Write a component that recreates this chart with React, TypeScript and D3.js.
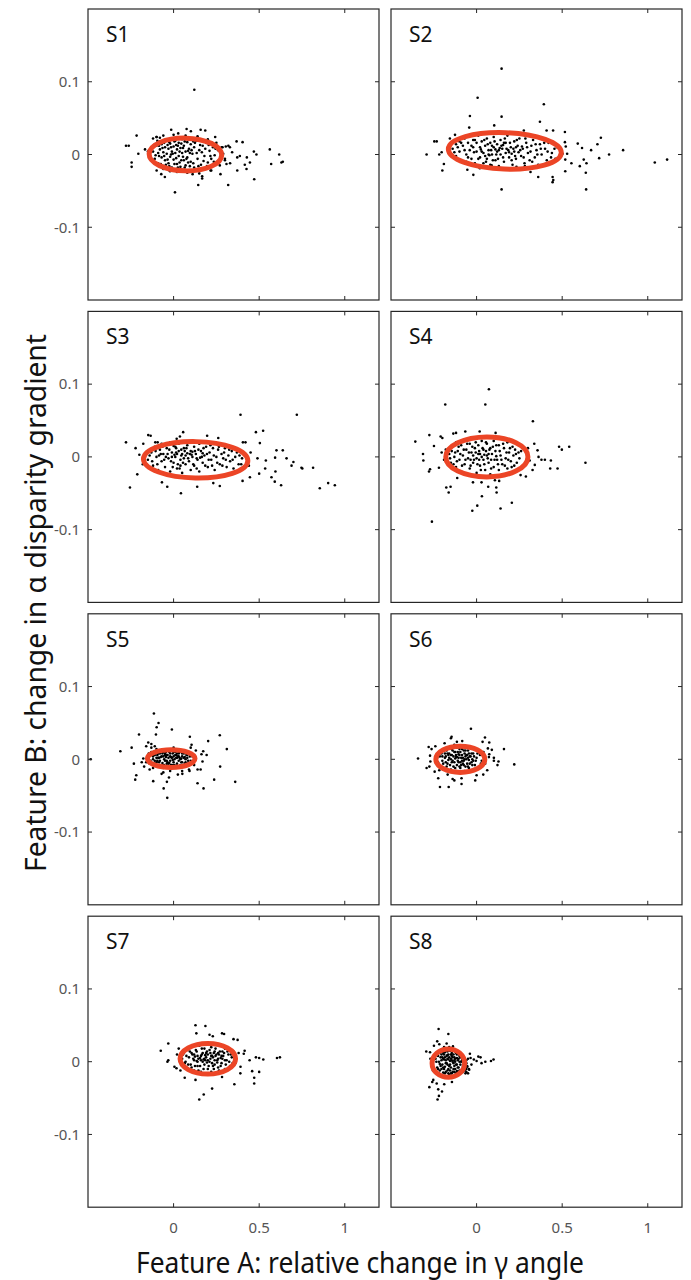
import React from 'react';
import * as d3 from 'd3';

// panel names and axis setup
const panelNames = ['S1', 'S2', 'S3', 'S4', 'S5', 'S6', 'S7', 'S8'];
const xTicks = [0, 0.5, 1];
const yTicks = [-0.1, 0, 0.1];
const xTickLabels = ['0', '0.5', '1'];
const yTickLabels = ['-0.1', '0', '0.1'];
const xDomain = [-0.5, 1.2];
const yDomain = [-0.2, 0.2];

// fitted ellipses (centre, semi axes, tilt in screen degrees)
const ellipseCx = [0.069, 0.165, 0.129, 0.06, -0.014, -0.095, 0.2, -0.165];
const ellipseCy = [0, 0.005, -0.004, 0, 0.001, 0, 0.004, -0.002];
const ellipseRx = [0.212, 0.33, 0.305, 0.24, 0.139, 0.143, 0.162, 0.095];
const ellipseRy = [0.0225, 0.025, 0.025, 0.0275, 0.0122, 0.018, 0.021, 0.0195];
const ellipseTilt = [1, 2, 1, 0, 0, 0, 0, 0];

const s1Points: [number, number][] = [
  [0.121, 0.089], [-0.278, 0.012], [-0.262, 0.012], [-0.216, 0.026], [-0.245, -0.011], [-0.245, -0.017],
  [-0.206, 0.001], [-0.167, 0.007], [-0.014, 0.034], [0.076, 0.035], [0.101, 0.032], [0.158, 0.034],
  [0.185, 0.033], [0.243, 0.024], [0.368, 0.018], [0.403, 0.017], [0.329, 0.01], [0.342, 0.003],
  [0.372, -0.004], [0.387, -0.002], [0.428, -0.004], [0.446, -0.011], [0.416, -0.014], [0.426, -0.02],
  [0.372, -0.022], [0.469, 0.004], [0.484, 0], [0.471, -0.034], [0.562, 0.007], [0.617, 0],
  [0.57, -0.013], [0.63, -0.011], [0.638, -0.01], [0.319, -0.042], [0.144, -0.042], [0.008, -0.052],
  [0.111, -0.027], [0.167, -0.03], [0.167, -0.033], [0.274, -0.027], [0.216, -0.022], [-0.072, -0.027],
  [-0.051, -0.031], [-0.099, -0.022], [-0.021, -0.023], [0.037, -0.02], [0.3, -0.008], [0.309, -0.013],
  [0.286, 0.01], [0.305, 0.011], [-0.099, 0.024], [-0.08, 0.023], [0.027, 0.029],
  [-0.12, 0.022], [-0.1, 0.024], [-0.06, 0.026], [0, 0.027], [0.07, 0.026], [0.14, 0.025], [0.2, 0.021],
  [0.25, 0.016], [0.28, 0.01], [0.29, 0.001], [0.3, -0.006], [0.27, -0.015], [0.22, -0.022], [0.15, -0.026],
  [0.08, -0.025], [0.02, -0.024], [-0.06, -0.02], [-0.13, -0.008], [-0.15, 0.004], [0.32, 0.012], [0.33, -0.012],
  [-0.12, 0.004], [-0.11, -0.006], [-0.1, 0.012], [-0.09, 0.002], [-0.09, -0.012], [-0.08, 0.018], [-0.08, 0.007],
  [-0.07, -0.004], [-0.07, 0.014], [-0.06, -0.016], [-0.06, 0.003], [-0.05, 0.01], [-0.05, -0.008], [-0.04, 0.02],
  [-0.04, 0.001], [-0.03, -0.012], [-0.03, 0.008], [-0.02, 0.015], [-0.02, -0.003], [-0.01, 0.004], [-0.01, -0.018],
  [0, 0.011], [0, -0.007], [0.01, 0.019], [0.01, 0.002], [0.02, -0.013], [0.02, 0.007], [0.03, 0.016],
  [0.03, -0.002], [0.04, 0.009], [0.04, -0.017], [0.05, 0.002], [0.05, 0.021], [0.06, -0.008], [0.06, 0.012],
  [0.07, 0.004], [0.07, -0.015], [0.08, 0.017], [0.08, -0.004], [0.09, 0.008], [0.1, -0.01], [0.1, 0.014],
  [0.11, 0.001], [0.12, -0.018], [0.12, 0.01], [0.13, 0.019], [0.14, -0.006], [0.15, 0.006], [0.16, -0.014],
  [0.17, 0.012], [0.18, -0.002], [0.19, 0.016], [0.2, -0.011], [0.21, 0.005], [0.22, -0.006], [0.23, 0.01],
  [0.24, -0.001], [0.26, 0.006], [-0.015, 0], [0.035, 0.004], [-0.065, 0.009], [0.085, -0.011], [0.015, -0.005],
  [-0.025, 0.017], [0.055, -0.003], [0.045, 0.015], [-0.045, -0.014], [0.095, 0.002], [0.025, 0.012], [-0.085, -0.002],
  [-0.115, 0.013], [-0.105, -0.001], [-0.095, 0.019], [-0.075, -0.013], [-0.055, 0.016], [-0.035, -0.007],
  [-0.015, 0.01], [0.005, -0.013], [0.005, 0.018], [0.025, -0.018], [0.045, -0.008], [0.065, 0.018],
  [0.075, -0.006], [0.085, 0.005], [0.105, 0.006], [0.115, -0.012], [0.125, 0.016], [0.135, 0.002],
  [0.145, -0.016], [0.155, 0.013], [0.165, 0.003], [0.175, -0.009], [0.185, 0.008], [0.195, -0.016],
  [0.205, 0.013], [0.215, -0.002], [0.225, 0.016], [0.235, -0.01], [0.245, 0.008], [-0.005, 0.001],
  [-0.035, 0.013], [0.055, 0.009], [0.015, 0.013], [-0.055, -0.002], [0.035, -0.011], [0.095, -0.016],
  [-0.085, 0.012], [0.115, 0.018], [0.065, -0.018], [-0.025, -0.016],
];

const s2Points: [number, number][] = [
  [0.146, 0.118], [0.006, 0.078], [0.393, 0.069], [0.146, 0.052], [-0.039, 0.053], [0.37, 0.045],
  [-0.043, 0.037], [0.103, 0.04], [0.276, 0.033], [0.409, 0.033], [0.447, 0.033], [0.516, 0.031],
  [0.726, 0.023], [0.706, 0.014], [0.591, 0.015], [0.616, 0.009], [0.669, 0.006], [0.774, 0],
  [0.856, 0.006], [0.716, -0.005], [1.041, -0.011], [1.113, -0.007], [0.626, -0.007], [0.642, -0.012],
  [0.603, -0.016], [0.554, -0.012], [0.518, -0.007], [0.529, 0.001], [0.502, 0.001], [0.521, 0.011],
  [0.516, 0.017], [0.638, -0.025], [0.64, -0.048], [0.518, -0.023], [0.444, -0.031], [0.444, -0.038],
  [0.448, -0.035], [0.36, -0.031], [0.315, -0.024], [0.146, -0.048], [-0.019, -0.028], [-0.054, -0.021],
  [-0.2, -0.022], [-0.191, -0.013], [-0.292, 0], [-0.247, 0.018], [-0.233, 0.018], [-0.218, 0],
  [-0.204, 0.003], [-0.126, 0.027], [-0.156, 0.022], [0.019, -0.019], [0.088, -0.015], [0.233, -0.017],
  [0.282, -0.016],
  [-0.14, 0.008], [-0.12, 0.014], [-0.12, -0.002], [-0.1, 0.018], [-0.1, 0.004], [-0.09, -0.008], [-0.08, 0.012],
  [-0.07, 0.022], [-0.06, 0], [-0.06, -0.01], [-0.05, 0.016], [-0.04, 0.006], [-0.03, -0.006], [-0.02, 0.02],
  [-0.02, 0.01], [-0.01, -0.012], [0, 0.004], [0, 0.016], [0.01, 0.026], [0.02, -0.004], [0.02, 0.01],
  [0.03, 0.018], [0.04, -0.012], [0.04, 0.002], [0.05, 0.012], [0.06, 0.022], [0.06, -0.006], [0.07, 0.006],
  [0.08, 0.016], [0.08, -0.014], [0.09, 0], [0.1, 0.01], [0.1, 0.024], [0.11, -0.008], [0.12, 0.004],
  [0.12, 0.014], [0.13, -0.016], [0.14, 0.02], [0.14, 0], [0.15, 0.008], [0.16, -0.01], [0.17, 0.016],
  [0.17, 0.002], [0.18, 0.026], [0.19, -0.004], [0.2, 0.01], [0.21, -0.014], [0.22, 0.018], [0.22, 0.004],
  [0.23, -0.006], [0.24, 0.012], [0.25, 0.022], [0.26, -0.002], [0.27, 0.008], [0.28, -0.012], [0.29, 0.016],
  [0.3, 0.002], [0.31, -0.008], [0.32, 0.012], [0.33, 0.02], [0.34, -0.004], [0.35, 0.006], [0.36, -0.014],
  [0.37, 0.014], [0.38, 0], [0.4, 0.008], [0.41, -0.008], [0.42, 0.016], [0.44, 0.002], [0.46, -0.006],
  [0.47, 0.01], [0.05, -0.002], [0.135, 0.009], [0.185, 0.006], [0.245, 0.003], [0.075, -0.001],
  [0.11, 0.007], [0.155, 0.013], [0.205, 0.001], [0.265, 0.011], [0.025, 0.007], [-0.015, 0.003],
  [-0.13, 0.003], [-0.11, 0.01], [-0.09, 0.016], [-0.07, 0.006], [-0.05, -0.004], [-0.03, 0.012], [-0.01, 0.02],
  [0.01, -0.006], [0.03, 0.004], [0.045, 0.02], [0.055, -0.01], [0.065, 0.014], [0.085, 0.006], [0.095, -0.008],
  [0.105, 0.018], [0.115, 0], [0.125, -0.006], [0.145, 0.012], [0.155, -0.004], [0.165, 0.022], [0.175, 0.008],
  [0.195, 0.016], [0.205, -0.008], [0.215, 0.008], [0.225, -0.002], [0.235, 0.02], [0.255, 0.006], [0.275, -0.004],
  [0.285, 0.022], [0.295, 0.01], [0.315, 0.004], [0.325, -0.01], [0.345, 0.014], [0.355, 0], [0.375, 0.008],
  [0.395, 0.016], [0.415, 0.004], [0.435, -0.004], [0.455, 0.008], [0.07, 0], [0.13, 0.006], [0.19, 0.003],
  [0.16, 0.016], [0.09, 0.012], [0.23, 0.01],
];

const s3Points: [number, number][] = [
  [0.391, 0.058], [0.72, 0.058], [0.481, 0.034], [0.523, 0.036], [0.504, 0.019], [0.405, 0.02],
  [0.42, 0.02], [0.601, 0.009], [0.638, 0.009], [0.66, -0.002], [0.593, -0.001], [0.539, -0.005],
  [0.49, -0.002], [0.7, -0.007], [0.689, -0.012], [0.747, -0.015], [0.752, -0.016], [0.815, -0.015],
  [0.854, -0.043], [0.903, -0.036], [0.942, -0.039], [0.628, -0.039], [0.591, -0.034], [0.572, -0.028],
  [0.595, -0.02], [0.535, -0.016], [0.5, -0.023], [0.446, -0.028], [0.403, -0.033], [0.27, -0.04],
  [0.232, -0.036], [0.138, -0.041], [0.043, -0.05], [-0.037, -0.041], [-0.068, -0.035], [-0.255, -0.042],
  [-0.212, -0.024], [-0.222, 0.012], [-0.278, 0.02], [-0.2, 0.003], [-0.177, 0.018], [-0.148, 0.03],
  [-0.134, 0.029], [0.056, 0.034], [0.196, 0.029], [0.261, 0.026], [0.037, 0.028], [0.018, 0.025],
  [-0.107, 0.02], [-0.093, 0.02], [0.45, 0.006], [0.44, -0.012], [-0.18, -0.01],
  [-0.15, -0.004], [-0.13, 0.006], [-0.12, -0.012], [-0.11, 0.014], [-0.1, 0], [-0.09, -0.018], [-0.08, 0.01],
  [-0.07, 0.018], [-0.07, -0.006], [-0.06, 0.004], [-0.05, -0.014], [-0.04, 0.012], [-0.03, -0.002], [-0.02, 0.02],
  [-0.02, -0.02], [-0.01, 0.006], [0, -0.008], [0.01, 0.014], [0.01, 0], [0.02, -0.016], [0.03, 0.008],
  [0.03, 0.018], [0.04, -0.004], [0.05, 0.004], [0.05, -0.022], [0.06, 0.012], [0.07, -0.01], [0.07, 0.002],
  [0.08, 0.016], [0.09, -0.006], [0.1, 0.008], [0.1, -0.018], [0.11, 0], [0.12, 0.014], [0.12, -0.012],
  [0.13, 0.004], [0.14, -0.004], [0.15, 0.018], [0.15, -0.02], [0.16, 0.008], [0.17, -0.008], [0.18, 0.002],
  [0.19, 0.014], [0.2, -0.014], [0.21, 0.006], [0.22, -0.004], [0.23, 0.012], [0.24, -0.018], [0.25, 0],
  [0.26, 0.01], [0.27, -0.01], [0.28, 0.004], [0.29, -0.002], [0.3, 0.012], [0.31, -0.014], [0.32, 0.002],
  [0.33, -0.006], [0.34, 0.008], [0.35, -0.016], [0.36, 0], [0.37, 0.006], [0.38, -0.01], [0.4, -0.002],
  [0.005, 0.003], [0.045, 0.01], [-0.035, 0.004], [0.085, -0.002], [0.065, 0.008], [0.025, -0.01], [-0.055, -0.004],
  [-0.015, -0.006], [0.015, 0.006], [0.055, -0.008], [0.105, 0.003], [0.155, -0.001], [-0.085, 0.002],
  [-0.14, 0.002], [-0.125, -0.006], [-0.105, 0.008], [-0.095, -0.01], [-0.075, 0.004], [-0.065, 0.014],
  [-0.045, 0], [-0.025, 0.01], [-0.005, -0.014], [0.015, 0.012], [0.035, -0.016], [0.045, 0.002],
  [0.075, 0.012], [0.095, 0.004], [0.115, -0.01], [0.125, 0.008], [0.135, -0.016], [0.145, 0.01],
  [0.165, 0], [0.175, 0.012], [0.185, -0.012], [0.195, 0.004], [0.205, -0.004], [0.215, 0.016],
  [0.225, -0.012], [0.235, 0.002], [0.255, -0.008], [0.265, 0.014], [0.285, -0.012], [0.295, 0.006],
  [0.305, -0.004], [0.325, 0.01], [0.345, -0.004], [0.365, 0.01], [0.385, 0.002], [0.395, -0.01],
  [-0.01, 0], [0.02, 0.004], [0.06, -0.002], [0.08, 0.005], [0.11, 0.007], [0.135, -0.002], [0.17, 0.005],
  [0.04, -0.012], [0, 0.015],
];

const s4Points: [number, number][] = [
  [0.072, 0.093], [-0.183, 0.072], [0.051, 0.072], [0.329, 0.049], [-0.358, 0.021], [-0.276, 0.03],
  [-0.21, 0.028], [-0.2, 0.026], [-0.136, 0.032], [-0.12, 0.033], [-0.066, 0.035], [0.018, 0.035],
  [0.111, 0.033], [-0.313, 0.004], [-0.311, -0.005], [-0.249, 0.015], [-0.204, 0.006], [-0.22, -0.015],
  [-0.272, -0.017], [-0.278, -0.02], [0.337, 0.018], [0.356, 0.009], [0.362, 0], [0.379, -0.004],
  [0.399, -0.004], [0.434, -0.005], [0.482, 0.014], [0.498, 0.01], [0.541, 0.014], [0.636, -0.008],
  [0.43, -0.016], [0.473, -0.016], [0.34, -0.011], [0.327, -0.018], [0.288, -0.027], [0.257, -0.025],
  [-0.113, -0.029], [-0.177, -0.042], [-0.152, -0.041], [-0.163, -0.049], [-0.021, -0.035], [0.029, -0.035],
  [0.068, -0.041], [0.115, -0.042], [0.117, -0.049], [0.031, -0.054], [0.004, -0.067], [-0.025, -0.074],
  [0.14, -0.071], [0.206, -0.063], [-0.261, -0.089], [0.107, -0.032], [0.132, -0.033], [-0.18, 0.01],
  [0.3, 0.012], [0.31, -0.005], [-0.19, -0.004],
  [-0.16, 0.004], [-0.15, -0.008], [-0.14, 0.014], [-0.13, 0], [-0.12, -0.014], [-0.12, 0.02], [-0.11, 0.008],
  [-0.1, -0.004], [-0.09, 0.016], [-0.09, -0.02], [-0.08, 0.002], [-0.07, 0.024], [-0.07, -0.01], [-0.06, 0.01],
  [-0.05, -0.002], [-0.04, 0.018], [-0.04, -0.016], [-0.03, 0.006], [-0.02, -0.008], [-0.02, 0.026], [-0.01, 0.012],
  [0, -0.002], [0, -0.022], [0.01, 0.016], [0.02, 0.004], [0.02, -0.012], [0.03, 0.022], [0.04, -0.004],
  [0.04, 0.01], [0.05, -0.018], [0.06, 0.002], [0.06, 0.018], [0.07, -0.008], [0.08, 0.012], [0.08, -0.024],
  [0.09, 0.004], [0.1, -0.014], [0.1, 0.022], [0.11, 0.008], [0.12, -0.004], [0.13, 0.016], [0.13, -0.018],
  [0.14, 0.002], [0.15, -0.01], [0.16, 0.012], [0.17, -0.002], [0.18, 0.02], [0.18, -0.016], [0.19, 0.006],
  [0.2, -0.006], [0.21, 0.014], [0.22, -0.012], [0.23, 0.004], [0.25, -0.002], [0.26, 0.008], [0.03, 0],
  [-0.005, 0.006], [0.055, 0.008], [0.085, -0.004], [0.015, -0.004], [-0.035, -0.004], [0.115, 0.001],
  [-0.155, -0.002], [-0.145, 0.008], [-0.135, -0.01], [-0.125, 0.006], [-0.115, -0.006], [-0.105, 0.014],
  [-0.095, 0.004], [-0.085, -0.012], [-0.075, 0.01], [-0.065, -0.004], [-0.055, 0.018], [-0.045, 0.006],
  [-0.035, -0.012], [-0.025, 0.014], [-0.015, -0.004], [-0.005, 0.02], [0.005, -0.01], [0.015, 0.008],
  [0.025, -0.018], [0.035, 0.012], [0.045, -0.01], [0.055, 0.02], [0.065, -0.002], [0.075, 0.01],
  [0.085, -0.016], [0.095, 0.014], [0.105, -0.004], [0.115, 0.016], [0.125, -0.01], [0.135, 0.008],
  [0.145, -0.004], [0.155, 0.018], [0.165, -0.012], [0.175, 0.006], [0.185, -0.004], [0.195, 0.012],
  [0.205, -0.014], [0.215, 0.002], [0.225, 0.01], [0.235, -0.008], [0.245, 0.006], [0.01, 0.004],
  [0.045, 0.003], [0.07, 0.004], [-0.02, 0.002],
];

const s5Points: [number, number][] = [
  [-0.115, 0.063], [-0.088, 0.05], [-0.099, 0.044], [-0.01, 0.041], [-0.103, 0.034], [-0.202, 0.034],
  [0.095, 0.031], [0.27, 0.033], [0.202, 0.025], [-0.148, 0.023], [0.105, 0.02], [-0.245, 0.016],
  [-0.311, 0.011], [-0.484, 0], [0.173, 0.011], [0.163, 0.007], [0.193, 0.006], [0.311, 0.014],
  [0.169, -0.003], [0.158, -0.014], [0.272, -0.01], [0.093, -0.016], [-0.232, -0.006], [-0.218, -0.022],
  [-0.224, -0.028], [-0.119, -0.03], [-0.07, -0.02], [-0.027, -0.025], [-0.039, -0.031], [-0.058, -0.04],
  [-0.037, -0.053], [0.025, -0.021], [0.051, -0.02], [0.14, -0.033], [0.175, -0.04], [0.237, -0.028],
  [0.36, -0.031], [-0.177, 0.001], [-0.186, -0.004], [-0.172, -0.01], [-0.16, 0.018], [-0.13, 0.021],
  [-0.15, 0.004], [-0.14, -0.006], [-0.13, 0.01], [-0.12, 0], [-0.12, -0.012], [-0.11, 0.006], [-0.1, -0.004],
  [-0.1, 0.014], [-0.09, 0.002], [-0.09, -0.01], [-0.08, 0.008], [-0.08, -0.002], [-0.07, 0.012], [-0.07, -0.008],
  [-0.06, 0.004], [-0.06, -0.012], [-0.05, 0.008], [-0.05, -0.002], [-0.04, 0.012], [-0.04, -0.006], [-0.03, 0.002],
  [-0.03, -0.01], [-0.02, 0.008], [-0.02, -0.002], [-0.01, 0.012], [-0.01, -0.008], [0, 0.004], [0, -0.004],
  [0.01, 0.01], [0.01, -0.01], [0.02, 0.002], [0.02, -0.006], [0.03, 0.008], [0.03, -0.002], [0.04, 0.012],
  [0.04, -0.008], [0.05, 0.004], [0.05, -0.004], [0.06, 0.008], [0.06, -0.01], [0.07, 0], [0.08, 0.006],
  [0.08, -0.006], [0.09, 0.01], [0.1, -0.002], [0.11, 0.004], [0.12, -0.008], [-0.095, 0.006], [-0.075, 0.003],
  [-0.055, 0], [-0.035, 0.006], [-0.015, 0.003], [0.005, 0], [0.025, 0.004], [-0.045, 0.003], [-0.065, -0.005],
  [-0.025, -0.005], [0.015, 0.006], [0.035, 0.002], [-0.085, 0.01], [-0.105, -0.008], [-0.13, 0.016], [-0.14, -0.014],
  [0.13, 0.012], [0.14, -0.014], [-0.16, -0.004], [-0.11, 0.018], [-0.06, -0.018], [0, 0.016], [0.05, -0.016],
  [0.1, 0.016], [-0.02, -0.016], [0.09, -0.014], [-0.085, -0.004], [-0.005, -0.001], [0.045, 0.001], [0.065, 0.003],
  [-0.145, 0.008], [-0.135, -0.002], [-0.125, 0.006], [-0.115, -0.006], [-0.105, 0.01], [-0.095, -0.002],
  [-0.085, 0.002], [-0.075, -0.01], [-0.065, 0.008], [-0.055, -0.008], [-0.045, 0.01], [-0.035, -0.004],
  [-0.025, 0.01], [-0.015, -0.008], [-0.005, 0.008], [0.005, -0.008], [0.015, 0.002], [0.025, -0.01],
  [0.035, 0.01], [0.045, -0.004], [0.055, 0.01], [0.065, -0.006], [0.075, 0.006], [0.085, -0.002],
  [0.095, 0.004], [0.105, 0.008], [0.115, -0.004], [-0.11, -0.002], [-0.09, 0.008], [-0.07, 0.004],
  [-0.05, 0.006], [-0.03, -0.006], [-0.01, 0.002], [0.01, 0.006], [0.03, 0.004], [0.05, 0.008],
  [0.07, -0.004], [-0.08, -0.008], [-0.06, 0.01], [-0.04, -0.002], [-0.02, 0.004], [0, 0.01],
  [0.02, 0.008], [0.04, 0], [0.06, 0.002], [0.08, 0.002], [-0.1, 0.002], [-0.12, 0.004], [0, -0.008], [-0.04, 0.006],
];

const s6Points: [number, number][] = [
  [-0.033, 0.042], [-0.146, 0.031], [-0.15, 0.029], [-0.187, 0.022], [-0.084, 0.025], [-0.115, 0.024],
  [0.049, 0.03], [0.035, 0.024], [0.074, 0.023], [0.066, 0.015], [0.089, 0.013], [0.16, 0.014],
  [-0.241, 0.018], [-0.28, 0.017], [-0.263, 0.014], [-0.342, 0.001], [-0.272, 0.005], [-0.27, -0.003],
  [-0.292, -0.012], [-0.276, -0.01], [-0.245, -0.017], [-0.218, -0.015], [-0.224, -0.026], [-0.214, -0.038],
  [-0.163, -0.038], [-0.169, -0.021], [-0.14, -0.027], [-0.13, -0.029], [-0.088, -0.034], [-0.088, -0.026],
  [-0.008, -0.029], [0, -0.022], [0.039, -0.021], [0.062, -0.015], [0.101, 0.002], [0.101, -0.002],
  [0.128, -0.003], [0.122, -0.008], [0.22, -0.007], [0.072, 0.003], [0.074, 0.007],
  [-0.23, 0.002], [-0.22, -0.008], [-0.21, 0.01], [-0.2, -0.002], [-0.19, 0.014], [-0.19, -0.012], [-0.18, 0.004],
  [-0.17, -0.006], [-0.17, 0.016], [-0.16, 0.008], [-0.15, -0.014], [-0.15, 0], [-0.14, 0.012], [-0.13, -0.004],
  [-0.13, 0.02], [-0.12, 0.006], [-0.12, -0.016], [-0.11, -0.002], [-0.1, 0.014], [-0.1, -0.01], [-0.09, 0.002],
  [-0.08, 0.018], [-0.08, -0.006], [-0.07, 0.008], [-0.07, -0.016], [-0.06, 0], [-0.05, 0.012], [-0.05, -0.01],
  [-0.04, 0.004], [-0.03, -0.004], [-0.03, 0.016], [-0.02, 0.008], [-0.01, -0.008], [0, 0.002], [0.01, -0.012],
  [0.02, 0.006], [0.03, -0.002], [0.04, 0.01], [-0.165, -0.001], [-0.145, 0.006], [-0.125, 0.001], [-0.105, 0.007],
  [-0.085, -0.002], [-0.065, 0.004], [-0.045, -0.001], [-0.115, -0.008], [-0.075, 0.012], [-0.135, -0.01],
  [-0.095, 0.01], [-0.055, 0.006], [-0.185, 0.008], [-0.025, 0], [-0.205, -0.012], [-0.155, 0.018], [-0.035, -0.016],
  [0.05, -0.006], [-0.24, -0.004], [0.015, 0.012], [-0.095, -0.004], [-0.115, 0.003], [-0.075, -0.008],
  [-0.225, -0.004], [-0.215, 0.004], [-0.205, 0.008], [-0.195, -0.006], [-0.185, 0.002], [-0.175, -0.01],
  [-0.175, 0.012], [-0.165, 0.006], [-0.155, -0.008], [-0.145, 0.014], [-0.145, -0.004], [-0.135, 0.004],
  [-0.125, -0.012], [-0.125, 0.01], [-0.115, 0.016], [-0.105, -0.004], [-0.105, 0.002], [-0.095, -0.012],
  [-0.085, 0.006], [-0.085, 0.014], [-0.075, -0.002], [-0.065, -0.01], [-0.065, 0.012], [-0.055, -0.006],
  [-0.045, 0.008], [-0.045, -0.012], [-0.035, 0.004], [-0.025, -0.008], [-0.015, 0.004], [-0.005, -0.002],
  [0.005, 0.008], [0.025, -0.006], [-0.16, 0.002], [-0.14, -0.002], [-0.12, 0.003], [-0.1, 0.006],
  [-0.08, 0.002], [-0.06, 0.006], [-0.04, -0.006], [-0.02, -0.002], [-0.18, -0.004], [-0.2, 0.004],
  [-0.11, 0.01], [-0.09, -0.008], [-0.07, 0], [-0.05, 0.002], [-0.13, 0.01], [-0.15, 0.006], [-0.17, 0.008], [-0.03, 0.008],
];

const s7Points: [number, number][] = [
  [0.128, 0.05], [0.186, 0.049], [0.133, 0.039], [0.21, 0.037], [0.229, 0.035], [0.283, 0.039],
  [0.295, 0.038], [-0.031, 0.025], [-0.075, 0.015], [0.35, 0.031], [0.374, 0.03], [0.415, 0.015],
  [0.41, 0.011], [0.444, 0.002], [0.481, 0.006], [0.5, 0.005], [0.524, 0.003], [0.604, 0.005],
  [0.621, 0.006], [0.459, -0.013], [0.5, -0.014], [0.471, -0.022], [0.471, -0.03], [0.355, -0.031],
  [0.225, -0.037], [0.176, -0.045], [0.15, -0.052], [0.128, -0.025], [0.065, -0.022], [-0.036, 0],
  [-0.031, 0.002], [0.005, -0.007], [0.017, -0.009], [0.283, -0.021], [0.391, -0.007], [0.02, 0.01],
  [0.38, 0.012], [0.39, -0.016], [0.04, -0.012], [0.03, 0.018],
  [0.05, 0.004], [0.06, -0.006], [0.06, 0.012], [0.07, 0], [0.08, 0.016], [0.08, -0.01], [0.09, 0.006],
  [0.1, -0.004], [0.1, 0.02], [0.11, 0.01], [0.12, -0.012], [0.12, 0.002], [0.13, 0.016], [0.14, -0.006],
  [0.14, 0.008], [0.15, 0.022], [0.16, -0.014], [0.16, 0.002], [0.17, 0.012], [0.18, -0.004], [0.18, 0.018],
  [0.19, 0.006], [0.2, -0.01], [0.2, 0.01], [0.21, 0], [0.22, 0.02], [0.22, -0.014], [0.23, 0.006],
  [0.24, -0.004], [0.24, 0.014], [0.25, 0.024], [0.26, -0.008], [0.26, 0.004], [0.27, 0.014], [0.28, -0.002],
  [0.29, 0.008], [0.3, -0.01], [0.3, 0.018], [0.31, 0.002], [0.32, 0.01], [0.33, -0.006], [0.34, 0.006],
  [0.35, 0.014], [0.36, -0.002], [0.125, 0.007], [0.155, 0.005], [0.185, 0.009], [0.215, 0.004], [0.245, 0.008],
  [0.275, 0.005], [0.195, -0.001], [0.165, 0.01], [0.235, 0.012], [0.105, 0.012], [0.285, 0.014], [0.145, -0.012],
  [0.265, -0.012], [0.205, 0.024], [0.175, 0.003], [0.225, 0.008], [0.135, 0.001], [0.255, -0.001],
  [0.055, 0.01], [0.065, -0.002], [0.075, 0.008], [0.085, -0.004], [0.095, 0.014], [0.105, -0.008],
  [0.115, 0.004], [0.125, -0.006], [0.135, 0.014], [0.145, 0.004], [0.155, -0.006], [0.165, 0.018],
  [0.175, -0.01], [0.185, 0.002], [0.195, 0.014], [0.205, -0.006], [0.215, 0.012], [0.225, -0.002],
  [0.235, -0.01], [0.245, 0.018], [0.255, 0.002], [0.265, 0.01], [0.275, -0.006], [0.285, 0.004],
  [0.295, 0.012], [0.305, -0.004], [0.315, 0.014], [0.325, 0], [0.335, 0.01], [0.345, -0.002],
  [0.12, 0.01], [0.14, 0], [0.16, 0.008], [0.18, 0.004], [0.2, 0.002], [0.22, 0.008], [0.24, 0.002],
  [0.26, 0.012], [0.28, 0.008], [0.3, 0.002], [0.17, 0], [0.19, 0.012], [0.21, 0.016], [0.23, -0.006], [0.25, 0.01],
];

const s8Points: [number, number][] = [
  [-0.222, 0.045], [-0.165, 0.038], [-0.23, 0.028], [-0.218, 0.024], [-0.249, 0.022], [-0.175, 0.025],
  [-0.138, 0.021], [-0.294, 0.014], [-0.272, 0.013], [-0.039, 0.011], [0.01, 0.007], [0.023, 0.006],
  [-0.016, 0.003], [0, 0.001], [0.051, 0], [0.084, 0.001], [0.099, 0.003], [0.029, -0.002],
  [-0.054, -0.007], [-0.043, -0.011], [-0.06, -0.014], [-0.253, -0.025], [-0.259, -0.028], [-0.233, -0.03],
  [-0.276, -0.035], [-0.224, -0.038], [-0.189, -0.031], [-0.202, -0.041], [-0.228, -0.052], [-0.22, -0.047],
  [-0.144, -0.028], [-0.03, -0.004], [-0.035, 0.005], [-0.27, 0.004], [-0.255, -0.012],
  [-0.24, 0.004], [-0.23, -0.008], [-0.23, 0.012], [-0.22, 0], [-0.22, -0.016], [-0.21, 0.016], [-0.21, 0.006],
  [-0.2, -0.004], [-0.2, -0.02], [-0.19, 0.01], [-0.19, 0.02], [-0.19, -0.01], [-0.18, 0.002], [-0.18, -0.014],
  [-0.17, 0.014], [-0.17, -0.004], [-0.16, 0.006], [-0.16, -0.018], [-0.16, 0.02], [-0.15, -0.008], [-0.15, 0.01],
  [-0.14, 0], [-0.14, -0.014], [-0.14, 0.016], [-0.13, 0.006], [-0.13, -0.006], [-0.12, 0.012], [-0.12, -0.016],
  [-0.11, 0.002], [-0.11, -0.008], [-0.1, 0.008], [-0.1, -0.012], [-0.09, 0], [-0.08, -0.006], [-0.08, 0.006],
  [-0.07, -0.012], [-0.06, -0.002], [-0.06, -0.01], [-0.05, 0.004], [-0.05, -0.016], [-0.215, -0.003],
  [-0.195, 0.004], [-0.175, 0.008], [-0.155, 0.001], [-0.135, -0.002], [-0.115, 0.005], [-0.185, -0.007],
  [-0.145, 0.008], [-0.165, -0.01], [-0.125, -0.01], [-0.205, 0.01], [-0.175, -0.02], [-0.155, 0.015],
  [-0.095, -0.004], [-0.065, -0.016], [-0.045, -0.01], [-0.07, 0.004], [-0.165, 0.003], [-0.185, 0.013],
  [-0.145, -0.016], [-0.205, -0.01], [-0.125, 0.004], [-0.195, -0.015], [-0.115, -0.013], [-0.17, 0.009],
  [-0.235, 0], [-0.225, 0.008], [-0.225, -0.01], [-0.215, 0.012], [-0.215, -0.012], [-0.205, 0.002],
  [-0.205, 0.016], [-0.195, -0.008], [-0.195, 0.012], [-0.185, 0.006], [-0.185, -0.016], [-0.175, -0.002],
  [-0.175, 0.016], [-0.165, 0.01], [-0.165, -0.016], [-0.155, -0.004], [-0.155, -0.012], [-0.145, 0.002],
  [-0.145, 0.012], [-0.135, 0.01], [-0.135, -0.01], [-0.125, 0], [-0.125, 0.014], [-0.115, -0.004],
  [-0.115, 0.01], [-0.105, 0.004], [-0.105, -0.008], [-0.095, 0.006], [-0.085, -0.01], [-0.085, 0.002],
  [-0.2, 0.006], [-0.18, -0.002], [-0.16, -0.006], [-0.14, 0.006], [-0.12, -0.004], [-0.1, 0],
  [-0.19, 0.003], [-0.17, 0.004], [-0.15, 0.004], [-0.13, 0.002], [-0.21, -0.006], [-0.17, -0.012],
  [-0.15, -0.016], [-0.13, -0.014], [-0.11, 0.012], [-0.075, -0.004], [-0.065, -0.008], [-0.055, -0.006],
  [-0.08, -0.014], [-0.06, 0.002],
];

const panelPoints = [s1Points, s2Points, s3Points, s4Points, s5Points, s6Points, s7Points, s8Points];

// layout
const colLeft = [88, 391];
const rowTop = 9;
const rowStep = 302.4;
const panelW = 291;
const panelH = 291;
const tickLen = 4;
const frameColor = '#262626';
const labelColor = '#555';
const ellipseColor = '#ec4526';

function Panel({ i }: { i: number }) {
  const col = i % 2;
  const row = Math.floor(i / 2);
  const left = colLeft[col];
  const top = rowTop + row * rowStep;
  const x = d3.scaleLinear().domain(xDomain).range([left, left + panelW]);
  const y = d3.scaleLinear().domain(yDomain).range([top + panelH, top]);
  const cx = x(ellipseCx[i]);
  const cy = y(ellipseCy[i]);
  const rx = x(ellipseCx[i] + ellipseRx[i]) - cx;
  const ry = cy - y(ellipseCy[i] + ellipseRy[i]);
  const showY = col === 0;
  const showX = row === 3;

  return (
    <g>
      {panelPoints[i].map((p, k) => (
        <circle key={k} cx={x(p[0])} cy={y(p[1])} r={1.3} fill="#000" />
      ))}
      <ellipse cx={cx} cy={cy} rx={rx} ry={ry} fill="none" stroke={ellipseColor} strokeWidth={5}
        transform={`rotate(${ellipseTilt[i]},${cx},${cy})`} />
      <rect x={left} y={top} width={panelW} height={panelH} fill="none" stroke={frameColor} strokeWidth={1.2} />
      {xTicks.map(t => (
        <g key={'x' + t}>
          <line x1={x(t)} x2={x(t)} y1={top + panelH} y2={top + panelH - tickLen} stroke={frameColor} />
          <line x1={x(t)} x2={x(t)} y1={top} y2={top + tickLen} stroke={frameColor} />
        </g>
      ))}
      {yTicks.map(t => (
        <g key={'y' + t}>
          <line x1={left} x2={left + tickLen} y1={y(t)} y2={y(t)} stroke={frameColor} />
          <line x1={left + panelW} x2={left + panelW - tickLen} y1={y(t)} y2={y(t)} stroke={frameColor} />
        </g>
      ))}
      {showY && yTicks.map((t, k) => (
        <text key={'yl' + t} x={left - 8} y={y(t)} dy="0.35em" textAnchor="end" fontSize={15} fill={labelColor}>
          {yTickLabels[k]}
        </text>
      ))}
      {showX && xTicks.map((t, k) => (
        <text key={'xl' + t} x={x(t)} y={top + panelH + 26} textAnchor="middle" fontSize={15} fill={labelColor}>
          {xTickLabels[k]}
        </text>
      ))}
      <text x={left + 18} y={top + 33} fontSize={21} fill="#111">{panelNames[i]}</text>
    </g>
  );
}

export default function App() {
  return (
    <svg width={691} height={1280} style={{ position: 'absolute', left: 0, top: 0, background: '#fff' }}
      fontFamily="'Noto Sans', 'Open Sans', sans-serif">
      {panelNames.map((n, i) => <Panel key={n} i={i} />)}
      <text x={360} y={1273} fontSize={29} textAnchor="middle" textLength={448} lengthAdjust="spacingAndGlyphs" fill="#111">
        Feature A: relative change in γ angle
      </text>
      <text transform="translate(46,603) rotate(-90)" fontSize={29} textAnchor="middle" textLength={538}
        lengthAdjust="spacingAndGlyphs" fill="#111">
        Feature B: change in α disparity gradient
      </text>
    </svg>
  );
}
